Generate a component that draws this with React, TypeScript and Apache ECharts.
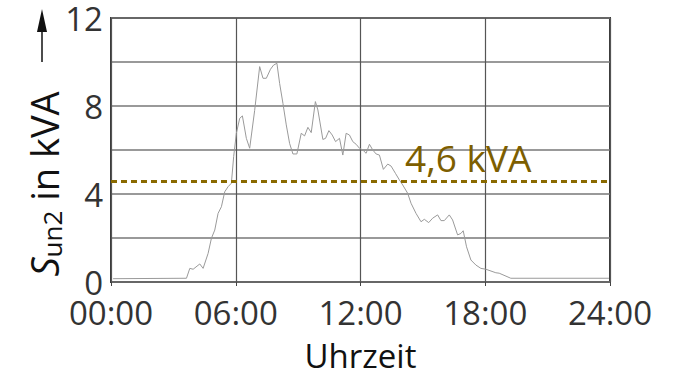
import React, { useEffect, useRef } from "react";
import * as echarts from "echarts";

const hours: number[] = [
  0.1, 3.63, 3.79, 3.95, 4.27, 4.43, 4.67, 4.83, 4.99, 5.15, 5.31, 5.47, 5.63, 5.79, 5.9,
  6.03, 6.19, 6.32, 6.51, 6.67, 6.91, 7.15, 7.31, 7.47, 7.67, 7.82, 7.98, 8.11, 8.27, 8.43,
  8.59, 8.75, 8.94, 9.15, 9.31, 9.47, 9.63, 9.83, 9.95, 10.19, 10.32, 10.48, 10.64, 10.8,
  10.99, 11.15, 11.31, 11.47, 11.63, 11.79, 11.95, 12.11, 12.27, 12.43, 12.59, 12.75, 12.91,
  13.1, 13.31, 13.47, 13.68, 13.87, 14.03, 14.27, 14.43, 14.67, 14.91, 15.07, 15.28, 15.47,
  15.71, 15.87, 16.03, 16.27, 16.43, 16.67, 16.83, 16.94, 17.1, 17.31, 17.55, 17.79, 18.03,
  18.51, 18.67, 19.23, 23.95,
];
const power: number[] = [
  0.15, 0.17, 0.62, 0.58, 0.82, 0.62, 1.3, 1.99, 2.36, 3.12, 3.42, 4.1, 4.33, 4.49, 5.7,
  6.76, 7.44, 7.55, 6.53, 6.08, 7.8, 9.79, 9.26, 9.26, 9.67, 9.86, 9.94, 9.03, 8.12, 7.14,
  6.3, 5.82, 5.82, 6.76, 6.64, 7.03, 6.79, 8.2, 7.82, 6.48, 6.53, 6.88, 6.68, 6.38,
  6.53, 5.77, 6.76, 6.68, 6.38, 6.26, 6.08, 6.0, 5.85, 6.26, 6.0, 5.82, 5.77,
  5.12, 5.36, 5.27, 4.94, 4.64, 4.41, 4.03, 3.58, 3.12, 2.74, 2.85, 2.7, 2.9,
  3.05, 2.79, 2.79, 3.05, 2.82, 2.14, 2.21, 2.33, 1.6, 1.0, 0.77, 0.62, 0.58,
  0.42, 0.4, 0.17, 0.17,
];
const limitValue = 4.6;
const limitLabel = "4,6 kVA";
const yLabelTicks = [0, 4, 8, 12];

const FONT = "'Open Sans', 'Noto Sans', sans-serif";

export default function App() {
  const ref = useRef<HTMLDivElement>(null);
  useEffect(() => {
    if (!ref.current) return;
    const chart = echarts.init(ref.current, undefined, { renderer: "svg" });
    const data = hours.map((h, i) => [h, power[i]]);
    chart.setOption({
      animation: false,
      grid: {
        left: 111,
        right: 70,
        top: 18,
        bottom: 88,
        outerBoundsMode: "none",
        containLabel: false,
        show: true,
        borderColor: "#3a3a3a",
        borderWidth: 2,
        backgroundColor: "transparent",
      },
      xAxis: {
        type: "value",
        min: 0,
        max: 24,
        interval: 6,
        name: "Uhrzeit",
        nameLocation: "middle",
        nameGap: 58,
        nameTextStyle: { fontFamily: FONT, fontSize: 33, lineHeight: 30, color: "#111" },
        axisLine: { show: false },
        axisTick: { show: true, length: 4, lineStyle: { color: "#444", width: 1 } },
        axisLabel: {
          margin: 16,
          fontFamily: FONT,
          fontSize: 33,
          lineHeight: 28,
          color: "#333",
          formatter: (v: number) => `${String(v).padStart(2, "0")}:00`,
        },
        splitLine: { show: true, lineStyle: { color: "#555", width: 1.2 } },
      },
      yAxis: {
        type: "value",
        min: 0,
        max: 12,
        interval: 2,
        axisLine: { show: false },
        axisTick: { show: false },
        axisLabel: {
          margin: 8,
          fontFamily: FONT,
          fontSize: 33,
          lineHeight: 28,
          color: "#333",
          formatter: (v: number) => (yLabelTicks.includes(v) ? String(v) : ""),
        },
        splitLine: { show: true, lineStyle: { color: "#777", width: 1.5 } },
      },
      series: [
        {
          type: "line",
          data,
          showSymbol: false,
          symbol: "none",
          lineStyle: { color: "#9a9a9a", width: 1 },
          z: 3,
          markLine: {
            silent: true,
            symbol: "none",
            label: { show: false },
            lineStyle: { color: "#8a6a00", width: 3, type: [6, 4] },
            data: [{ yAxis: limitValue }],
          },
        },
      ],
      graphic: [
        {
          type: "text",
          left: 405,
          top: 139,
          style: {
            text: limitLabel,
            fontFamily: FONT,
            fontSize: 37,
            fill: "#7d5e00",
          },
          z: 10,
        },
        {
          type: "text",
          x: 44,
          y: 184,
          rotation: Math.PI / 2,
          style: {
            text: "{s|S}{sub|un2}{n| in kVA}",
            align: "center",
            verticalAlign: "middle",
            rich: {
              s: { fontFamily: FONT, fontSize: 38, fontStyle: "italic", fill: "#111" },
              sub: { fontFamily: FONT, fontSize: 26, fill: "#111", verticalAlign: "bottom", padding: [15, 0, 0, 0] },
              n: { fontFamily: FONT, fontSize: 38, fill: "#111" },
            },
          },
        },
        {
          type: "line",
          shape: { x1: 42, y1: 30, x2: 42, y2: 62 },
          style: { stroke: "#111", lineWidth: 1.5 },
        },
        {
          type: "polygon",
          shape: { points: [[42, 9], [37, 32], [47, 32]] },
          style: { fill: "#111" },
        },
      ],
    });
    return () => chart.dispose();
  }, []);
  return <div ref={ref} style={{ width: 680, height: 370, position: "absolute", left: 0, top: 0 }} />;
}
